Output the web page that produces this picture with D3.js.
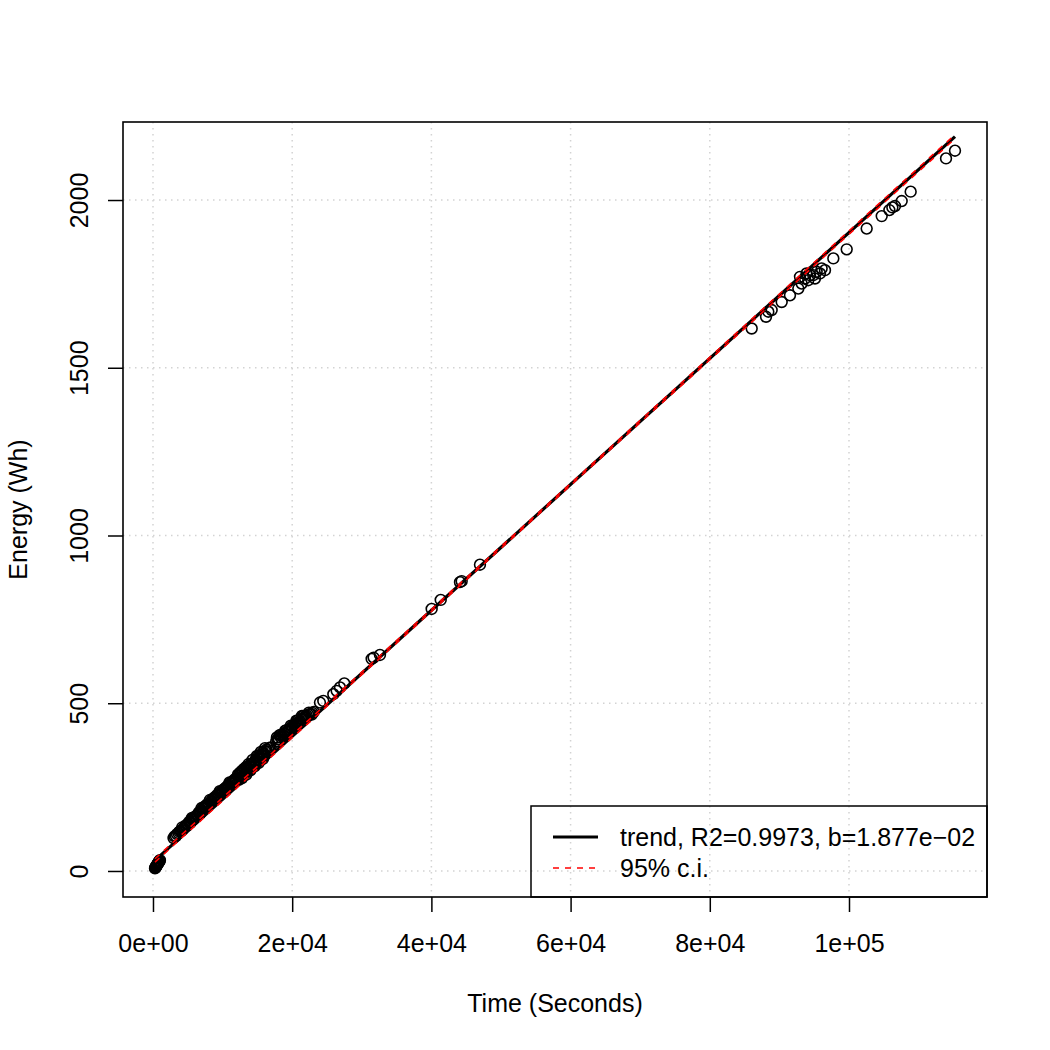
<!DOCTYPE html>
<html><head><meta charset="utf-8">
<script src="https://cdn.jsdelivr.net/npm/d3@7"></script>
<style>body{margin:0;background:#fff} svg{display:block} text{font-family:"Liberation Sans",Arial,Helvetica,sans-serif;fill:#000}</style>
</head><body><svg id="c" width="1050" height="1050"></svg>
<script>
// ---- data ----
const timeSec = [
  290,330,380,420,470,520,580,640,700,760,820,880,940,1000,
  2950,3300,3650,4000,4200,4300,4550,4800,5050,5300,5500,5600,5750,6000,6200,6450,6700,
  3100,3450,3800,4150,4450,4700,4950,5200,5400,5650,5900,6100,6350,6600,6800,
  6900,7000,7100,7300,7500,7700,7900,8100,8200,8300,8500,8700,8900,9100,9300,9500,9600,9700,9900,10100,10300,10500,10700,10900,11000,11100,11300,11500,11700,11900,
  7200,7400,7600,7800,8000,8400,8600,8800,9000,9200,9400,9800,10000,10200,10400,10600,10800,11200,11400,11600,11800,
  12100,12300,12400,12600,12700,12900,13000,13200,13300,13500,13600,13800,13900,14100,14200,14400,14500,14700,14800,15000,15100,15300,15400,15600,15700,15900,16000,16200,16400,16600,16900,
  12500,13100,13700,14300,14900,15500,16100,
  12200,12500,12800,13400,14000,14600,15200,15800,16300,16700,12800,13400,14000,14600,15200,15800,
  17700,17900,18100,18300,18500,18700,18900,19100,19300,19500,19700,19900,20100,20300,20500,20700,20900,21100,21300,21500,21700,21900,22100,22300,22600,22900,
  18200,19000,19800,20600,21400,
  17800,18000,18400,18800,19200,19600,20000,20400,20800,21200,21600,22000,22400,22800,23100,
  23990,24470,25910,26390,26870,27490,
  31420,31700,32610,40040,41340,44110,44350,46980,
  86020,88080,88410,88890,90330,91520,92720,93200,92960,93680,93900,94150,94400,94870,95110,95350,95830,96550,96070,97750,99670,102540,104700,105800,106230,106610,107570,108860,113940,115230
];
const energyWh = [
  8,10,11,13,14,16,18,20,22,24,26,28,30,32,
  98,104,113,118,130,124,131,133,140,143,149,158,152,158,161,168,172,
  103,110,117,121,128,136,137,146,145,155,155,163,164,175,172,
  177,188,180,186,188,193,196,200,212,205,207,212,216,219,224,226,238,231,235,238,242,246,249,253,264,256,260,263,268,271,
  187,192,191,199,198,210,214,219,218,226,229,236,240,244,247,251,255,262,266,270,274,
  276,284,272,290,281,295,286,300,292,306,298,312,303,318,309,322,314,330,320,334,326,340,331,345,337,350,343,354,356,360,368,
  293,305,318,331,342,355,366,
  287,279,299,310,316,327,344,354,362,366,277,287,300,312,322,334,
  386,393,392,399,402,404,410,408,416,419,421,426,428,434,436,441,444,447,452,454,458,461,463,466,468,471,
  405,418,433,448,462,
  398,386,406,402,420,415,432,428,448,443,462,457,472,466,474,
  502,507,527,537,547,559,
  632,636,644,781,808,861,864,913,
  1617,1652,1667,1672,1696,1716,1736,1751,1771,1766,1781,1761,1776,1776,1766,1786,1781,1791,1796,1826,1853,1915,1952,1970,1978,1982,1997,2025,2124,2147
];
const xTicks = [0,20000,40000,60000,80000,100000];
const xTickLabels = ["0e+00","2e+04","4e+04","6e+04","8e+04","1e+05"];
const yTicks = [0,500,1000,1500,2000];
const yTickLabels = ["0","500","1000","1500","2000"];
const trendIntercept = 26;
const trendSlope = 0.01877;
const ciTime = [290, 57760, 115230];
const ciHalfWidth = [5, 2.5, 6];
const legendLabels = ["trend, R2=0.9973, b=1.877e\u221202", "95% c.i."];
const xTitle = "Time (Seconds)";
const yTitle = "Energy (Wh)";

// ---- layout ----
const M = {left:123, right:987, top:122, bottom:897};
const FS = 25;
const svg = d3.select("#c");
const xExt = d3.extent(timeSec), yExt = d3.extent(energyWh);
const xPad = (xExt[1]-xExt[0])*0.04, yPad = (yExt[1]-yExt[0])*0.04;
const x = d3.scaleLinear().domain([xExt[0]-xPad, xExt[1]+xPad]).range([M.left, M.right]);
const y = d3.scaleLinear().domain([yExt[0]-yPad, yExt[1]+yPad]).range([M.bottom, M.top]);

// grid
const grid = svg.append("g").attr("stroke","#d3d3d3").attr("stroke-width",1.5).attr("stroke-dasharray","1.5,4.5");
grid.selectAll("line.v").data(xTicks).join("line").attr("class","v")
  .attr("x1",d=>x(d)).attr("x2",d=>x(d)).attr("y1",M.top).attr("y2",M.bottom);
grid.selectAll("line.h").data(yTicks).join("line").attr("class","h")
  .attr("x1",M.left).attr("x2",M.right).attr("y1",d=>y(d)).attr("y2",d=>y(d));

// points
svg.append("g").selectAll("circle").data(timeSec.map((t,i)=>[t,energyWh[i]])).join("circle")
  .attr("cx",d=>x(d[0])).attr("cy",d=>y(d[1])).attr("r",5.4)
  .attr("fill","none").attr("stroke","#000").attr("stroke-width",1.6);

// trend
const line = d3.line().x(d=>x(d[0])).y(d=>y(d[1]));
svg.append("path").datum(xExt.map(t=>[t, trendIntercept+trendSlope*t]))
  .attr("d",line).attr("fill","none").attr("stroke","#000").attr("stroke-width",3.2);
// CI
[-1,1].forEach(s=>{
  svg.append("path").datum(ciTime.map((t,i)=>[t, trendIntercept+trendSlope*t + s*ciHalfWidth[i]]))
    .attr("d",line).attr("fill","none").attr("stroke","#ff0000").attr("stroke-width",1.6)
    .attr("stroke-dasharray","6,6");
});

// axes
const xAxis = svg.append("g").attr("transform",`translate(0,${M.bottom})`)
  .call(d3.axisBottom(x).tickValues(xTicks).tickFormat((d,i)=>xTickLabels[i]).tickSize(15).tickSizeOuter(0));
xAxis.select(".domain").remove();
xAxis.selectAll(".tick line").attr("stroke","#000").attr("stroke-width",1.5);
xAxis.selectAll(".tick text").attr("y",55).attr("dy",null).attr("font-size",FS).attr("font-family",null).attr("fill","#000");

const yAxis = svg.append("g").attr("transform",`translate(${M.left},0)`)
  .call(d3.axisLeft(y).tickValues(yTicks).tickFormat((d,i)=>yTickLabels[i]).tickSize(15).tickSizeOuter(0));
yAxis.select(".domain").remove();
yAxis.selectAll(".tick line").attr("stroke","#000").attr("stroke-width",1.5);
yAxis.selectAll(".tick text").attr("x",null).attr("dy",null).attr("y",null)
  .attr("transform","translate(-35,0) rotate(-90)").attr("text-anchor","middle")
  .attr("font-size",FS).attr("font-family",null).attr("fill","#000");

// frame
svg.append("rect").attr("x",M.left).attr("y",M.top).attr("width",M.right-M.left).attr("height",M.bottom-M.top)
  .attr("fill","none").attr("stroke","#000").attr("stroke-width",1.6);

// titles
svg.append("text").attr("x",(M.left+M.right)/2).attr("y",1012).attr("text-anchor","middle").attr("font-size",FS).text(xTitle);
svg.append("text").attr("transform",`translate(27,${(M.top+M.bottom)/2}) rotate(-90)`).attr("text-anchor","middle").attr("font-size",FS).text(yTitle);

// legend
const lg = svg.append("g");
lg.append("rect").attr("x",531).attr("y",806).attr("width",M.right-531).attr("height",M.bottom-806)
  .attr("fill","none").attr("stroke","#000").attr("stroke-width",1.5);
const rows = [{c:"#000",w:3,dash:null},{c:"#ff0000",w:1.5,dash:"6,6"}];
rows.forEach((r,i)=>{
  const yy = 837 + i*31;
  lg.append("line").attr("x1",553).attr("x2",598).attr("y1",yy).attr("y2",yy)
    .attr("stroke",r.c).attr("stroke-width",r.w).attr("stroke-dasharray",r.dash);
  lg.append("text").attr("x",620).attr("y",yy+9).attr("font-size",FS).text(legendLabels[i]);
});
</script></body></html>
